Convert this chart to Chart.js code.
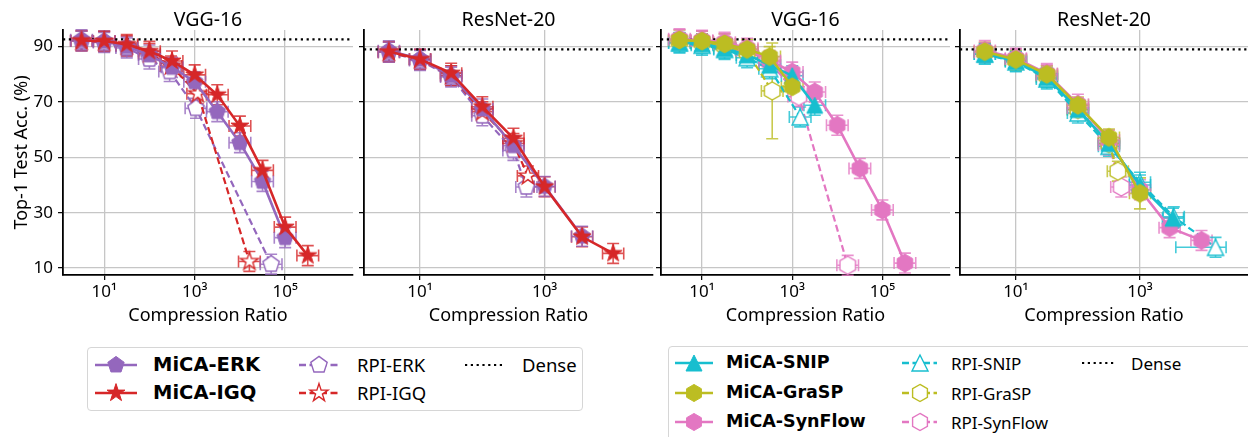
<!DOCTYPE html>
<html>
<head>
<meta charset="utf-8">
<title>MiCA vs RPI</title>
<script src="https://cdn.jsdelivr.net/npm/chart.js@4.4.1/dist/chart.umd.min.js"></script>
<style>
  body { margin: 0; background: #fff; }
  #wrap { position: relative; width: 1248px; height: 437px; overflow: hidden; font-family: "Noto Sans", sans-serif; color: #000; }
  canvas.panel { position: absolute; top: 0; }
  .legend { position: absolute; border: 1px solid #d6d6d6; border-radius: 4px; background: #fff; box-sizing: border-box; }
  .legend span { position: absolute; white-space: nowrap; line-height: 1; transform: translateY(-50%); }
  .legend .bold { font-family: "DejaVu Sans", sans-serif; font-weight: bold; }
</style>
</head>
<body>
<div id="wrap">
  <canvas id="p1" class="panel" width="354" height="330" style="left:0px"></canvas>
  <canvas id="p2" class="panel" width="298" height="330" style="left:356px"></canvas>
  <canvas id="p3" class="panel" width="298" height="330" style="left:653px"></canvas>
  <canvas id="p4" class="panel" width="296" height="330" style="left:952px"></canvas>
  <div id="leg1" class="legend" style="left:87px;top:347px;width:496px;height:64px"></div>
  <div id="leg2" class="legend" style="left:668px;top:346px;width:620px;height:110px"></div>
</div>
<script>
// compression ratios (x) and top-1 accuracies (y)
const vggRatio = [3.16, 10, 31.6, 100, 316, 1000, 3160, 1e4, 3.16e4, 1e5, 3.16e5];
const resRatio = [3.16, 10, 31.6, 100, 316, 1000, 4000, 12600];

// VGG-16, ERK / IGQ
const vggMicaErkAcc = [92.5, 92, 90, 87, 82.5, 77.3, 66.5, 55.3, 41.3, 21];
const vggMicaIgqAcc = [92.2, 92, 90.8, 88.3, 84.8, 79.8, 72.6, 61.3, 45.3, 24.8, 14.5];
const vggRpiErkRatio = [3.16, 10, 31.6, 100, 280, 1070, 4.9e4];
const vggRpiErkAcc = [92, 91.5, 89.5, 85.5, 81, 67.7, 11.4];
const vggRpiIgqRatio = [3.16, 10, 31.6, 100, 300, 1170, 1.62e4];
const vggRpiIgqAcc = [92, 91.8, 90.3, 87.5, 83, 73, 12.4];

// ResNet-20, ERK / IGQ
const resMicaErkAcc = [88.5, 85.5, 79.5, 67.5, 54.2, 39.5, 21.5];
const resMicaIgqAcc = [88.2, 85.4, 80.4, 68.3, 56.9, 39.4, 21.3, 15.3];
const resRpiErkRatio = [3.16, 10, 31.6, 100, 316, 510];
const resRpiErkAcc = [88, 85, 79, 65, 52.5, 39.3];
const resRpiIgqRatio = [3.16, 10, 31.6, 100, 316, 540];
const resRpiIgqAcc = [88, 85.3, 79.5, 66.5, 55, 43.3];

// VGG-16, SNIP / GraSP / SynFlow
const vggMicaSnipAcc = [91.5, 91, 89.3, 87, 83.3, 79.5, 68.8];
const vggMicaGraspAcc = [92.4, 92, 91, 89, 86.4, 75.5];
const vggMicaSynflowAcc = [92.8, 92.3, 91.6, 89.4, 85, 80.8, 73.6, 61.6, 46, 31, 11.8];
const vggRpiSnipRatio = [3.16, 10, 31.6, 100, 316, 1500];
const vggRpiSnipAcc = [91.3, 90.5, 89, 86, 82, 64.6];
const vggRpiGraspRatio = [3.16, 10, 31.6, 100, 360];
const vggRpiGraspAcc = [92, 91.5, 90.3, 88, 74];
const vggRpiGraspErr = [3, 3, 3, 3, 17.3];
const vggRpiSynflowRatio = [3.16, 10, 31.6, 100, 316, 1400, 1.7e4];
const vggRpiSynflowAcc = [92.5, 92, 91, 88.5, 84.5, 72, 11];

// ResNet-20, SNIP / GraSP / SynFlow
const resMicaSnipRatio = [3.16, 10, 31.6, 100, 316, 1000, 3400];
const resMicaSnipAcc = [87.3, 84.8, 78.8, 67.3, 55, 40, 28];
const resMicaGraspAcc = [88.2, 85.3, 80, 68.8, 57.2, 37];
const resMicaGraspErr = [3, 3, 3, 3, 3, 5.6];
const resMicaSynflowRatio = [3.16, 10, 31.6, 100, 316, 1000, 3000, 9800];
const resMicaSynflowAcc = [88.6, 85.8, 80.3, 69.2, 56.2, 38.3, 24.6, 20];
const resRpiSnipRatio = [3.16, 10, 31.6, 100, 316, 1000, 3500, 16500];
const resRpiSnipAcc = [87.3, 84.5, 78.3, 66, 54, 41, 28.5, 17.5];
const resRpiSnipRatioErr = [0.17, 0.17, 0.17, 0.17, 0.17, 0.17, 0.17, [0.64, 0.17]];
const resRpiGraspRatio = [3.16, 10, 31.6, 100, 316, 440];
const resRpiGraspAcc = [88, 85.2, 79.5, 67.3, 55, 45];
const resRpiSynflowRatio = [3.16, 10, 31.6, 100, 316, 500];
const resRpiSynflowAcc = [88, 85.5, 79.8, 67.8, 54.5, 39.3];

const vggDense = 92.6;
const resDense = 89;

// error bars: ratio in decades, accuracy in points
const vggRatioErr = 0.24;
const resRatioErr = 0.17;
const accErr = 3.6;

const accTicks = [10, 30, 50, 70, 90];
const vggTicks = [10, 1000, 1e5];
const resTicks = [10, 1000];
const vggRange = [1.23, 3.16e6];
const resRange = [1.26, 5.5e4];

const PURPLE = "#9467bd";
const RED = "#d62728";
const CYAN = "#17becf";
const OLIVE = "#bcbd22";
const PINK = "#e377c2";

Chart.defaults.font.family = '"Noto Sans", sans-serif';
Chart.defaults.color = "#000";

const makeMarker = (shape, color, filled, r) => {
  const c = document.createElement("canvas");
  const size = Math.ceil(r * 2 + 4) + (Math.ceil(r * 2 + 4) % 2);
  c.width = size;
  c.height = size;
  const ctx = c.getContext("2d");
  ctx.translate(size / 2, size / 2);
  ctx.beginPath();
  if (shape === "triangle") {
    ctx.moveTo(0, -r);
    ctx.lineTo(r, r);
    ctx.lineTo(-r, r);
  } else {
    const n = shape === "star" ? 10 : shape === "pentagon" ? 5 : 6;
    for (let k = 0; k < n; k++) {
      const a = -Math.PI / 2 + (k * 2 * Math.PI) / n;
      const rr = shape === "star" && k % 2 ? r * 0.382 : r;
      ctx.lineTo(rr * Math.cos(a), rr * Math.sin(a));
    }
  }
  ctx.closePath();
  ctx.fillStyle = filled ? color : "#fff";
  ctx.fill();
  ctx.strokeStyle = color;
  ctx.lineWidth = filled ? 1 : 1.4;
  ctx.stroke();
  return c;
};

const markerSize = { pentagon: 8.6, star: 9.4, hexagon: 9, triangle: 8 };

const withAlpha = (hex, a) => {
  const n = parseInt(hex.slice(1), 16);
  return `rgba(${n >> 16},${(n >> 8) & 255},${n & 255},${a})`;
};

const series = (label, color, xs, ys, shape, dashed, errX, errY) => ({
  label,
  data: ys.map((y, i) => ({ x: xs[i], y })),
  showLine: true,
  borderColor: color,
  backgroundColor: color,
  borderWidth: dashed ? 2.2 : 2.6,
  borderDash: dashed ? [7, 3.5] : [],
  pointStyle: makeMarker(shape, color, !dashed, markerSize[shape]),
  pointRadius: 6,
  errX,
  errY,
});

const dense = (value, range) => ({
  label: "Dense",
  data: [
    { x: range[0], y: value },
    { x: range[1], y: value },
  ],
  showLine: true,
  borderColor: "#000",
  borderWidth: 2.4,
  borderDash: [2.2, 3.6],
  pointRadius: 0,
});

const errorBars = {
  id: "errorBars",
  beforeDatasetsDraw(chart) {
    const { ctx } = chart;
    const xs = chart.scales.x;
    const ys = chart.scales.y;
    const cap = 6;
    chart.data.datasets.forEach((ds) => {
      if (ds.errX === undefined) return;
      ctx.save();
      ctx.strokeStyle = withAlpha(ds.borderColor, 0.8);
      ctx.lineWidth = 1.6;
      ds.data.forEach((p, i) => {
        const ex = Array.isArray(ds.errX) ? ds.errX[i] : ds.errX;
        const ey = Array.isArray(ds.errY) ? ds.errY[i] : ds.errY;
        const [lo, hi] = Array.isArray(ex) ? ex : [ex, ex];
        const px = xs.getPixelForValue(p.x);
        const py = ys.getPixelForValue(p.y);
        const xl = xs.getPixelForValue(p.x / Math.pow(10, lo));
        const xr = xs.getPixelForValue(p.x * Math.pow(10, hi));
        const yt = ys.getPixelForValue(p.y + ey);
        const yb = ys.getPixelForValue(p.y - ey);
        ctx.beginPath();
        ctx.moveTo(xl, py);
        ctx.lineTo(xr, py);
        ctx.moveTo(xl, py - cap);
        ctx.lineTo(xl, py + cap);
        ctx.moveTo(xr, py - cap);
        ctx.lineTo(xr, py + cap);
        ctx.moveTo(px, yt);
        ctx.lineTo(px, yb);
        ctx.moveTo(px - cap, yt);
        ctx.lineTo(px + cap, yt);
        ctx.moveTo(px - cap, yb);
        ctx.lineTo(px + cap, yb);
        ctx.stroke();
      });
      ctx.restore();
    });
  },
};

const SUP = { 1: "\u00b9", 3: "\u00b3", 5: "\u2075" };
const GRID = "#c6c6c6";

function drawPanel(id, title, datasets, range, xTicks, first, padRight) {
  new Chart(document.getElementById(id), {
    type: "scatter",
    data: { datasets },
    options: {
      responsive: false,
      animation: false,
      events: [],
      layout: { padding: { top: 0, right: padRight, bottom: 0, left: 0 }, autoPadding: false },
      plugins: {
        legend: { display: false },
        tooltip: { enabled: false },
        title: {
          display: true,
          text: title,
          fullSize: false,
          color: "#000",
          font: { size: 19.5, weight: "normal", lineHeight: 1 },
          padding: { top: 10.5, bottom: 0 },
        },
      },
      scales: {
        x: {
          type: "logarithmic",
          min: range[0],
          max: range[1],
          afterBuildTicks: (s) => {
            s.ticks = xTicks.map((v) => ({ value: v }));
          },
          afterFit: (s) => {
            s.height = 55;
          },
          ticks: {
            callback: (v) => "10" + SUP[Math.round(Math.log10(v))],
            font: { size: 17 },
            padding: 2,
            maxRotation: 0,
            autoSkip: false,
          },
          grid: { color: GRID, lineWidth: 1.3, tickColor: "#000", tickLength: 5, tickWidth: 1.2 },
          border: { color: "#000", width: 1.8 },
          title: {
            display: true,
            text: "Compression Ratio",
            font: { size: 18, lineHeight: 1 },
            padding: { top: 0, bottom: 5.5 },
          },
        },
        y: {
          min: 7.5,
          max: 96,
          afterBuildTicks: (s) => {
            s.ticks = accTicks.map((v) => ({ value: v }));
          },
          afterFit: (s) => {
            s.width = first ? 63 : 8;
          },
          ticks: { display: first, font: { size: 17 }, padding: 5 },
          grid: { color: GRID, lineWidth: 1.3, tickColor: "#000", tickLength: 5, tickWidth: 1.2 },
          border: { color: "#000", width: 1.8 },
          title: {
            display: first,
            text: "Top-1 Test Acc. (%)",
            font: { size: 18, lineHeight: 1 },
            padding: { top: 13, bottom: 0 },
          },
        },
      },
    },
    plugins: [errorBars],
  });
}

drawPanel("p1", "VGG-16", [
  series("MiCA-IGQ", RED, vggRatio, vggMicaIgqAcc, "star", false, vggRatioErr, accErr),
  series("MiCA-ERK", PURPLE, vggRatio, vggMicaErkAcc, "pentagon", false, vggRatioErr, accErr),
  series("RPI-IGQ", RED, vggRpiIgqRatio, vggRpiIgqAcc, "star", true, vggRatioErr, accErr),
  series("RPI-ERK", PURPLE, vggRpiErkRatio, vggRpiErkAcc, "pentagon", true, vggRatioErr, accErr),
  dense(vggDense, vggRange),
], vggRange, vggTicks, true, 1);

drawPanel("p2", "ResNet-20", [
  series("MiCA-IGQ", RED, resRatio, resMicaIgqAcc, "star", false, resRatioErr, accErr),
  series("MiCA-ERK", PURPLE, resRatio, resMicaErkAcc, "pentagon", false, resRatioErr, accErr),
  series("RPI-IGQ", RED, resRpiIgqRatio, resRpiIgqAcc, "star", true, resRatioErr, accErr),
  series("RPI-ERK", PURPLE, resRpiErkRatio, resRpiErkAcc, "pentagon", true, resRatioErr, accErr),
  dense(resDense, resRange),
], resRange, resTicks, false, 1);

drawPanel("p3", "VGG-16", [
  series("MiCA-GraSP", OLIVE, vggRatio, vggMicaGraspAcc, "hexagon", false, vggRatioErr, accErr),
  series("MiCA-SNIP", CYAN, vggRatio, vggMicaSnipAcc, "triangle", false, vggRatioErr, accErr),
  series("MiCA-SynFlow", PINK, vggRatio, vggMicaSynflowAcc, "hexagon", false, vggRatioErr, accErr),
  series("RPI-GraSP", OLIVE, vggRpiGraspRatio, vggRpiGraspAcc, "hexagon", true, vggRatioErr, vggRpiGraspErr),
  series("RPI-SNIP", CYAN, vggRpiSnipRatio, vggRpiSnipAcc, "triangle", true, vggRatioErr, accErr),
  series("RPI-SynFlow", PINK, vggRpiSynflowRatio, vggRpiSynflowAcc, "hexagon", true, vggRatioErr, accErr),
  dense(vggDense, vggRange),
], vggRange, vggTicks, false, 1);

drawPanel("p4", "ResNet-20", [
  series("MiCA-GraSP", OLIVE, resRatio, resMicaGraspAcc, "hexagon", false, resRatioErr, resMicaGraspErr),
  series("MiCA-SNIP", CYAN, resMicaSnipRatio, resMicaSnipAcc, "triangle", false, resRatioErr, accErr),
  series("MiCA-SynFlow", PINK, resMicaSynflowRatio, resMicaSynflowAcc, "hexagon", false, resRatioErr, accErr),
  series("RPI-GraSP", OLIVE, resRpiGraspRatio, resRpiGraspAcc, "hexagon", true, resRatioErr, accErr),
  series("RPI-SNIP", CYAN, resRpiSnipRatio, resRpiSnipAcc, "triangle", true, resRpiSnipRatioErr, accErr),
  series("RPI-SynFlow", PINK, resRpiSynflowRatio, resRpiSynflowAcc, "hexagon", true, resRatioErr, accErr),
  dense(resDense, resRange),
], resRange, resTicks, false, 0);

// legends
function legendItem(box, x, w, cy, item, textX, fontSize) {
  const c = document.createElement("canvas");
  c.width = w;
  c.height = 26;
  c.style.cssText = `position:absolute;left:${x}px;top:${cy - 13}px`;
  const g = c.getContext("2d");
  g.strokeStyle = item.color;
  g.lineWidth = item.kind === "dense" ? 2.2 : 2.4;
  g.setLineDash(item.kind === "dense" ? [2.2, 3.6] : item.kind === "rpi" ? [7, 3.5] : []);
  g.beginPath();
  g.moveTo(0, 13);
  g.lineTo(w, 13);
  g.stroke();
  if (item.shape) {
    const m = makeMarker(item.shape, item.color, item.kind === "mica", markerSize[item.shape] * item.scale);
    g.drawImage(m, Math.round(w / 2 - m.width / 2), Math.round(13 - m.height / 2));
  }
  box.appendChild(c);
  const s = document.createElement("span");
  s.textContent = item.label;
  if (item.kind === "mica") s.className = "bold";
  s.style.left = textX + "px";
  s.style.top = cy + "px";
  s.style.fontSize = (item.kind === "mica" ? fontSize.bold : fontSize.normal) + "px";
  box.appendChild(s);
}

const leg1 = document.getElementById("leg1");
const l1 = { bold: 19.5, normal: 18.5 };
legendItem(leg1, 7, 42, 16.5, { label: "MiCA-ERK", color: PURPLE, shape: "pentagon", kind: "mica", scale: 1 }, 65, l1);
legendItem(leg1, 7, 42, 45, { label: "MiCA-IGQ", color: RED, shape: "star", kind: "mica", scale: 1 }, 65, l1);
legendItem(leg1, 211, 40, 16.5, { label: "RPI-ERK", color: PURPLE, shape: "pentagon", kind: "rpi", scale: 1 }, 269, l1);
legendItem(leg1, 211, 40, 45, { label: "RPI-IGQ", color: RED, shape: "star", kind: "rpi", scale: 1 }, 269, l1);
legendItem(leg1, 377, 39, 16.5, { label: "Dense", color: "#000", kind: "dense" }, 434, l1);

const leg2 = document.getElementById("leg2");
const l2 = { bold: 17.5, normal: 17 };
legendItem(leg2, 6, 38, 16.3, { label: "MiCA-SNIP", color: CYAN, shape: "triangle", kind: "mica", scale: 1 }, 57, l2);
legendItem(leg2, 6, 38, 45.5, { label: "MiCA-GraSP", color: OLIVE, shape: "hexagon", kind: "mica", scale: 0.95 }, 57, l2);
legendItem(leg2, 6, 38, 74.5, { label: "MiCA-SynFlow", color: PINK, shape: "hexagon", kind: "mica", scale: 0.95 }, 57, l2);
legendItem(leg2, 233, 35, 16.3, { label: "RPI-SNIP", color: CYAN, shape: "triangle", kind: "rpi", scale: 1 }, 282, l2);
legendItem(leg2, 233, 35, 45.5, { label: "RPI-GraSP", color: OLIVE, shape: "hexagon", kind: "rpi", scale: 0.95 }, 282, l2);
legendItem(leg2, 233, 35, 74.5, { label: "RPI-SynFlow", color: PINK, shape: "hexagon", kind: "rpi", scale: 0.95 }, 282, l2);
legendItem(leg2, 413, 34, 16.3, { label: "Dense", color: "#000", kind: "dense" }, 462, l2);
</script>
</body>
</html>
